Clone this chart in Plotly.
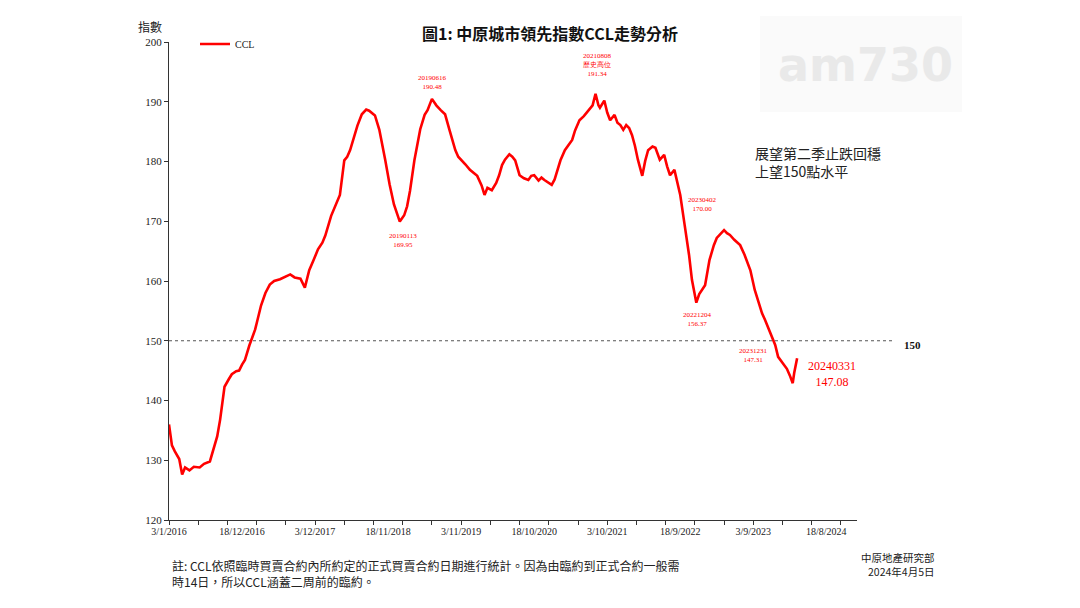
import plotly.graph_objects as go

# ---------------- data ----------------
dates = [
    "2016-01-03", "2016-01-17", "2016-01-31", "2016-02-21", "2016-03-06", "2016-03-20",
    "2016-04-10", "2016-05-01", "2016-05-29", "2016-06-19", "2016-07-17", "2016-08-07",
    "2016-08-21", "2016-09-04", "2016-09-25", "2016-10-16", "2016-10-30", "2016-11-20",
    "2016-12-04", "2016-12-18", "2017-01-01", "2017-01-22", "2017-02-19", "2017-03-19",
    "2017-04-09", "2017-04-30", "2017-05-21", "2017-06-18", "2017-07-09", "2017-08-06",
    "2017-08-27", "2017-09-24", "2017-10-15", "2017-11-05", "2017-11-26", "2017-12-17",
    "2018-01-07", "2018-01-21", "2018-02-18", "2018-03-11", "2018-04-01", "2018-04-22",
    "2018-05-06", "2018-05-20", "2018-06-10", "2018-06-24", "2018-07-15", "2018-08-05",
    "2018-08-19", "2018-09-16", "2018-10-07", "2018-10-21", "2018-11-04", "2018-11-25",
    "2018-12-16", "2019-01-13", "2019-02-03", "2019-02-17", "2019-03-03", "2019-03-24",
    "2019-04-07", "2019-04-21", "2019-05-12", "2019-05-26", "2019-06-16", "2019-07-07",
    "2019-07-28", "2019-08-18", "2019-09-08", "2019-09-22", "2019-10-06", "2019-10-20",
    "2019-11-03", "2019-11-24", "2019-12-15", "2020-01-05", "2020-01-19", "2020-02-09",
    "2020-02-23", "2020-03-08", "2020-03-29", "2020-04-19", "2020-05-03", "2020-05-17",
    "2020-05-31", "2020-06-21", "2020-07-05", "2020-07-19", "2020-08-09", "2020-08-30",
    "2020-09-20", "2020-10-04", "2020-10-18", "2020-11-08", "2020-11-22", "2020-12-06",
    "2020-12-27", "2021-01-10", "2021-01-24", "2021-02-07", "2021-02-21", "2021-03-14",
    "2021-03-28", "2021-04-18", "2021-05-02", "2021-05-23", "2021-06-13", "2021-07-04",
    "2021-07-25", "2021-08-08", "2021-08-22", "2021-08-29", "2021-09-19", "2021-10-03",
    "2021-10-17", "2021-11-07", "2021-11-21", "2021-12-05", "2021-12-19", "2022-01-02",
    "2022-01-16", "2022-01-30", "2022-02-13", "2022-02-27", "2022-03-20", "2022-04-03",
    "2022-04-17", "2022-05-08", "2022-05-22", "2022-06-12", "2022-07-03", "2022-07-17",
    "2022-07-31", "2022-08-21", "2022-09-04", "2022-09-18", "2022-10-09", "2022-10-30",
    "2022-11-13", "2022-11-27", "2022-12-04", "2022-12-18", "2023-01-01", "2023-01-15",
    "2023-02-05", "2023-02-26", "2023-03-12", "2023-03-26", "2023-04-16", "2023-04-30",
    "2023-05-14", "2023-06-04", "2023-06-18", "2023-07-02", "2023-07-23", "2023-08-06",
    "2023-08-20", "2023-09-10", "2023-10-01", "2023-10-15", "2023-10-29", "2023-11-19",
    "2023-12-03", "2023-12-17", "2023-12-31", "2024-01-14", "2024-01-28", "2024-02-11",
    "2024-02-25", "2024-03-10", "2024-03-17", "2024-03-31",
]
ccl = [
    136.0, 132.5, 131.5, 130.2, 127.6, 128.8,
    128.3, 128.9, 128.8, 129.4, 129.8, 132.3,
    134.0, 136.8, 142.3, 143.6, 144.4, 144.9,
    145.0, 146.0, 146.8, 149.2, 151.9, 155.9,
    158.0, 159.4, 160.0, 160.3, 160.6, 161.1,
    160.6, 160.4, 158.9, 161.8, 163.5, 165.3,
    166.4, 167.6, 170.9, 172.8, 174.4, 180.2,
    180.8, 181.9, 184.4, 186.0, 187.9, 188.7,
    188.5, 187.7, 185.3, 183.0, 180.3, 176.2,
    172.8, 169.95, 171.0, 172.5, 175.1, 180.2,
    182.8, 185.4, 187.8, 188.6, 190.48, 189.4,
    188.6, 187.9, 185.3, 183.4, 181.9, 180.8,
    180.3, 179.5, 178.6, 178.0, 177.6, 176.0,
    174.4, 175.6, 175.2, 176.4, 177.7, 179.4,
    180.3, 181.2, 180.8, 180.2, 177.7, 177.2,
    176.9, 177.6, 177.7, 176.8, 177.3, 176.9,
    176.4, 176.1, 177.0, 178.6, 180.2, 181.9,
    182.6, 183.6, 185.2, 186.9, 187.6, 188.6,
    189.4, 191.34, 189.4, 189.0, 190.2, 188.2,
    186.9, 187.8, 186.5, 186.1, 185.3, 186.1,
    185.6, 184.4, 182.6, 180.3, 177.6, 180.1,
    181.9, 182.5, 182.3, 180.3, 181.1, 179.2,
    177.7, 178.6, 176.2, 174.4, 169.4, 164.4,
    160.2, 157.6, 156.37, 157.8, 158.6, 159.3,
    163.5, 166.0, 167.2, 167.7, 168.5, 168.0,
    167.7, 166.9, 166.5, 166.0, 164.4, 162.9,
    161.8, 158.5, 156.0, 154.6, 153.5, 151.8,
    150.6, 149.3, 147.31, 146.6, 145.8, 145.3,
    144.2, 142.9, 144.6, 147.08,
]

x_tick_dates = ["2016-01-03", "2016-12-18", "2017-12-03", "2018-11-18", "2019-11-03",
                "2020-10-18", "2021-10-03", "2022-09-18", "2023-09-03", "2024-08-18"]
x_tick_labels = ["3/1/2016", "18/12/2016", "3/12/2017", "18/11/2018", "3/11/2019",
                 "18/10/2020", "3/10/2021", "18/9/2022", "3/9/2023", "18/8/2024"]
y_ticks = [120, 130, 140, 150, 160, 170, 180, 190, 200]
ref_level = 150

point_labels = [  # (text, x px, y px centre) in reference-picture pixels
    ("20190616<br>190.48", 432, 82),
    ("20210808<br>歷史高位<br>191.34", 597, 65),
    ("20190113<br>169.95", 403, 240),
    ("20230402<br>170.00", 702, 204),
    ("20221204<br>156.37", 697, 319),
    ("20231231<br>147.31", 753, 355),
]

# ---------------- layout helpers ----------------
OFF = 8  # page body margin of the written html
W, H = 1080 - OFF, 608 - OFF
L, T = 169 - OFF, 42 - OFF
PW, PH = 857 - 169, 520 - 42
R, B = W - L - PW, H - T - PH


def px(x):
    return (x - OFF - L) / PW


def py(y):
    return (T + PH - (y - OFF)) / PH


SERIF = "Liberation Serif, Times New Roman, serif"
CJK = "Noto Sans CJK TC, Noto Sans CJK SC, sans-serif"

fig = go.Figure()
fig.add_trace(go.Scatter(
    x=dates, y=ccl, mode="lines", name="CCL",
    line=dict(color="#ff0000", width=2.6),
))
# invisible helper trace for the label axis
fig.add_trace(go.Scatter(
    x=[x_tick_dates[0]], y=[None], xaxis="x2", mode="lines",
    showlegend=False, hoverinfo="skip",
))

x_range = ["2016-01-03", "2025-01-12"]

fig.update_layout(
    width=W, height=H,
    margin=dict(l=L, r=R, t=T, b=B),
    paper_bgcolor="white", plot_bgcolor="white",
    showlegend=True,
    legend=dict(x=px(195), y=py(44), xanchor="left", yanchor="middle",
                bgcolor="rgba(0,0,0,0)", font=dict(family=SERIF, size=10, color="#222"),
                itemwidth=30),
    xaxis=dict(
        type="date", range=x_range, showgrid=False, zeroline=False,
        showline=True, linecolor="#333", linewidth=1,
        tickmode="linear", tick0="2016-01-03", dtick=140 * 86400000,
        ticks="outside", ticklen=4, tickcolor="#333",
        showticklabels=False,
    ),
    xaxis2=dict(
        type="date", range=x_range, overlaying="x", matches="x", anchor="y", side="bottom",
        showgrid=False, zeroline=False, showline=False,
        tickmode="array", tickvals=x_tick_dates, ticktext=x_tick_labels,
        ticks="", ticklabelstandoff=4,
        tickfont=dict(family=SERIF, size=10, color="#222"),
    ),
    yaxis=dict(
        range=[120, 200], tickvals=y_ticks, showgrid=False, zeroline=False,
        showline=True, linecolor="#333", linewidth=1,
        ticks="outside", ticklen=4, tickcolor="#333",
        tickfont=dict(family=SERIF, size=11, color="#222"),
    ),
)

# dashed 150 reference line
fig.add_shape(type="line", xref="paper", yref="y", x0=0, x1=px(893),
              y0=ref_level, y1=ref_level,
              line=dict(color="#555", width=1, dash="dot"))

ann = []
# title
ann.append(dict(text="<b>圖1: 中原城市領先指數CCL走勢分析</b>", x=px(550), y=py(33),
                font=dict(family=CJK, size=16, color="#111")))
# y axis title
ann.append(dict(text="指數", x=px(150), y=py(27), font=dict(family=CJK, size=12, color="#222")))
# red point labels
for txt, xx, yy in point_labels:
    ann.append(dict(text=txt, x=px(xx), y=py(yy),
                    font=dict(family=SERIF, size=7, color="#ff0000")))
ann.append(dict(text="20240331<br>147.08", x=px(832), y=py(374),
                font=dict(family=SERIF, size=12, color="#ff0000")))
ann.append(dict(text="<b>150</b>", x=px(912), y=py(345),
                font=dict(family=SERIF, size=11, color="#111")))
ann.append(dict(text="展望第二季止跌回穩<br>上望150點水平", x=px(753), y=py(162),
                xanchor="left", align="left",
                font=dict(family=CJK, size=14, color="#222")))
ann.append(dict(text="註: CCL依照臨時買賣合約內所約定的正式買賣合約日期進行統計。因為由臨約到正式合約一般需<br>"
                     "時14日，所以CCL涵蓋二周前的臨約。",
                x=px(170), y=py(573), xanchor="left", align="left",
                font=dict(family=CJK, size=12, color="#222")))
ann.append(dict(text="中原地產研究部<br>2024年4月5日", x=px(937), y=py(564),
                xanchor="right", align="right",
                font=dict(family=CJK, size=10.5, color="#222")))
# watermark
ann.append(dict(text="<b>am730</b>", x=px(865), y=py(65),
                font=dict(family="DejaVu Sans", size=46, color="#e9e9e9")))

for a in ann:
    a.setdefault("xanchor", "center")
    a.setdefault("yanchor", "middle")
    a.update(xref="paper", yref="paper", showarrow=False)
    fig.add_annotation(**a)

fig.add_shape(type="rect", xref="paper", yref="paper", x0=px(760), x1=px(962),
              y0=py(112), y1=py(16), fillcolor="#fafafa", line=dict(width=0), layer="below")

fig.write_html("out.html")
